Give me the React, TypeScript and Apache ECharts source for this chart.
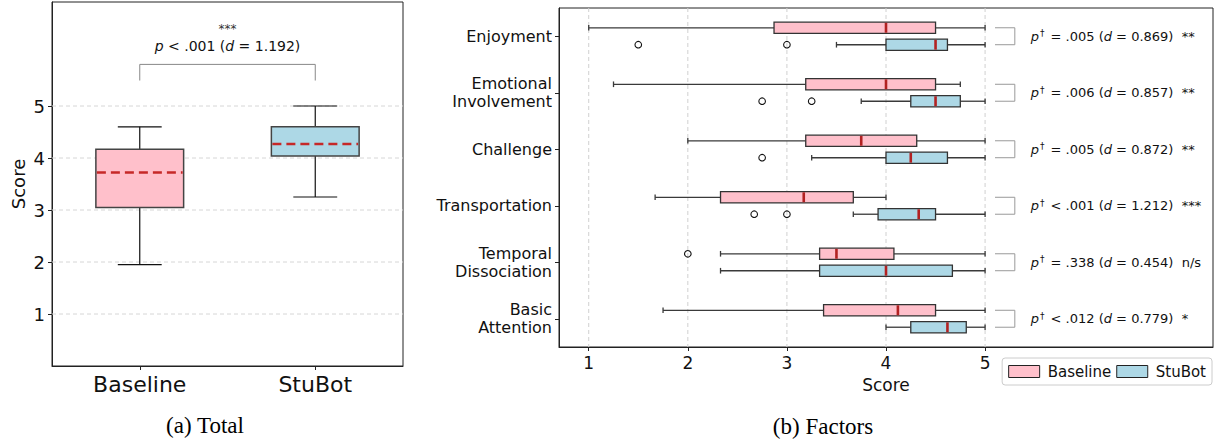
import React, { useEffect, useRef } from 'react';
import * as echarts from 'echarts';

// ---------- Data ----------
const totalGroups = ['Baseline', 'StuBot'];
const totalLow = [1.95, 3.25];
const totalQ1 = [3.05, 4.04];
const totalMedian = [3.72, 4.27];
const totalQ3 = [4.17, 4.6];
const totalHigh = [4.6, 5.0];
const totalSig = '***';
const totalP = '< .001';
const totalD = '1.192';

const factors = [
  'Enjoyment',
  'Emotional\nInvolvement',
  'Challenge',
  'Transportation',
  'Temporal\nDissociation',
  'Basic\nAttention',
];
const baselineLow = [1.0, 1.25, 2.0, 1.67, 2.33, 1.75];
const baselineQ1 = [2.87, 3.19, 3.19, 2.33, 3.33, 3.37];
const baselineMedian = [4.0, 4.0, 3.75, 3.17, 3.5, 4.12];
const baselineQ3 = [4.5, 4.5, 4.31, 3.67, 4.08, 4.5];
const baselineHigh = [5.0, 4.75, 5.0, 4.0, 5.0, 5.0];

const stubotLow = [3.5, 3.75, 3.25, 3.67, 2.33, 4.0];
const stubotQ1 = [4.0, 4.25, 4.0, 3.92, 3.33, 4.25];
const stubotMedian = [4.5, 4.5, 4.25, 4.33, 4.0, 4.62];
const stubotQ3 = [4.62, 4.75, 4.62, 4.5, 4.67, 4.81];
const stubotHigh = [5.0, 5.0, 5.0, 5.0, 5.0, 5.0];

// [factor index, score]
const baselineOutliers = [[4, 2.0]];
const stubotOutliers = [
  [0, 1.5], [0, 3.0],
  [1, 2.75], [1, 3.25],
  [2, 2.75],
  [3, 2.67], [3, 3.0],
];

const pRelations = ['=', '=', '=', '<', '=', '<'];
const pValues = ['.005', '.006', '.005', '.001', '.338', '.012'];
const effectSizes = ['0.869', '0.857', '0.872', '1.212', '0.454', '0.779'];
const sigMarks = ['**', '**', '**', '***', 'n/s', '*'];

const scoreTicks = [1, 2, 3, 4, 5];

// ---------- Styling ----------
const FONT = 'DejaVu Sans';
const PINK = '#FFC0CB';
const BLUE = '#ADD8E6';
const RED = '#B22222';
const AXIS = '#222';

export default function App() {
  const ref = useRef<HTMLDivElement>(null);

  useEffect(() => {
    if (!ref.current) return;
    const chart = echarts.init(ref.current, undefined, { renderer: 'svg' });

    const totalData = totalGroups.map((_, i) => [i, totalLow[i], totalQ1[i], totalMedian[i], totalQ3[i], totalHigh[i]]);
    const baseData = factors.map((_, i) => [i, baselineLow[i], baselineQ1[i], baselineMedian[i], baselineQ3[i], baselineHigh[i]]);
    const stuData = factors.map((_, i) => [i, stubotLow[i], stubotQ1[i], stubotMedian[i], stubotQ3[i], stubotHigh[i]]);

    const totalColors = [PINK, BLUE];

    const renderTotal = (params: any, api: any) => {
      const idx = api.value(0);
      const band = api.size([1, 0])[0];
      const w = band * 0.5;
      const cw = band * 0.25;
      const x = api.coord([idx, 0])[0];
      const yLow = api.coord([idx, api.value(1)])[1];
      const yQ1 = api.coord([idx, api.value(2)])[1];
      const yMed = api.coord([idx, api.value(3)])[1];
      const yQ3 = api.coord([idx, api.value(4)])[1];
      const yHigh = api.coord([idx, api.value(5)])[1];
      const ws = { stroke: '#111', lineWidth: 1.2 };
      return {
        type: 'group',
        children: [
          { type: 'line', shape: { x1: x, y1: yLow, x2: x, y2: yQ1 }, style: ws },
          { type: 'line', shape: { x1: x, y1: yQ3, x2: x, y2: yHigh }, style: ws },
          { type: 'line', shape: { x1: x - cw / 2, y1: yLow, x2: x + cw / 2, y2: yLow }, style: ws },
          { type: 'line', shape: { x1: x - cw / 2, y1: yHigh, x2: x + cw / 2, y2: yHigh }, style: ws },
          {
            type: 'rect',
            shape: { x: x - w / 2, y: yQ3, width: w, height: yQ1 - yQ3 },
            style: { fill: totalColors[idx], stroke: '#444', lineWidth: 1.5 },
          },
          {
            type: 'line',
            shape: { x1: x - w / 2 + 1, y1: yMed, x2: x + w / 2 - 1, y2: yMed },
            style: { stroke: '#C62828', lineWidth: 2.5, lineDash: [9, 5] },
          },
        ],
      };
    };

    const renderTotalAnno = (params: any, api: any) => {
      const a = api.coord([api.value(0), 5.49]);
      const b = api.coord([api.value(1), 5.49]);
      const top = api.coord([0, 5.8])[1];
      const mid = (a[0] + b[0]) / 2;
      return {
        type: 'group',
        children: [
          {
            type: 'polyline',
            shape: { points: [[a[0], a[1]], [a[0], top], [b[0], top], [b[0], b[1]]] },
            style: { stroke: '#888', lineWidth: 1, fill: 'none' },
          },
          {
            type: 'text',
            x: mid,
            y: api.coord([0, 6.15])[1],
            style: {
              text: `{i|p} ${totalP} ({i|d} = ${totalD})`,
              align: 'center',
              verticalAlign: 'middle',
              fontSize: 14,
              fontFamily: FONT,
              fill: '#111',
              rich: { i: { fontStyle: 'italic', fontSize: 14, fontFamily: FONT, fill: '#111' } },
            },
          },
          {
            type: 'text',
            x: mid,
            y: api.coord([0, 6.49])[1],
            style: {
              text: totalSig,
              align: 'center',
              verticalAlign: 'middle',
              fontSize: 12,
              fontFamily: FONT,
              fill: '#333',
            },
          },
        ],
      };
    };

    const makeFactorRender = (offsetFrac: number, fill: string) => (params: any, api: any) => {
      const idx = api.value(0);
      const band = api.size([0, 1])[1];
      const yc = api.coord([1, idx])[1] + offsetFrac * band;
      const h = band * 0.2;
      const xLow = api.coord([api.value(1), idx])[0];
      const xQ1 = api.coord([api.value(2), idx])[0];
      const xMed = api.coord([api.value(3), idx])[0];
      const xQ3 = api.coord([api.value(4), idx])[0];
      const xHigh = api.coord([api.value(5), idx])[0];
      const ws = { stroke: '#3a3a3a', lineWidth: 1.3 };
      return {
        type: 'group',
        children: [
          { type: 'line', shape: { x1: xLow, y1: yc, x2: xQ1, y2: yc }, style: ws },
          { type: 'line', shape: { x1: xQ3, y1: yc, x2: xHigh, y2: yc }, style: ws },
          { type: 'line', shape: { x1: xLow, y1: yc - h / 4, x2: xLow, y2: yc + h / 4 }, style: ws },
          { type: 'line', shape: { x1: xHigh, y1: yc - h / 4, x2: xHigh, y2: yc + h / 4 }, style: ws },
          {
            type: 'rect',
            shape: { x: xQ1, y: yc - h / 2, width: xQ3 - xQ1, height: h },
            style: { fill, stroke: '#333', lineWidth: 1.3 },
          },
          {
            type: 'line',
            shape: { x1: xMed, y1: yc - h / 2 + 0.7, x2: xMed, y2: yc + h / 2 - 0.7 },
            style: { stroke: RED, lineWidth: 2.6 },
          },
        ],
      };
    };

    const makeOutlierRender = (offsetFrac: number) => (params: any, api: any) => {
      const idx = api.value(0);
      const band = api.size([0, 1])[1];
      const p = api.coord([api.value(1), idx]);
      return {
        type: 'circle',
        shape: { cx: p[0], cy: p[1] + offsetFrac * band, r: 3.3 },
        style: { fill: 'none', stroke: '#111', lineWidth: 1.1 },
      };
    };

    const renderFactorAnno = (params: any, api: any) => {
      const idx = api.value(0);
      const i = params.dataIndex;
      const band = api.size([0, 1])[1];
      const yc = api.coord([1, idx])[1];
      const off = band * 0.15;
      const x1 = api.coord([5.1, idx])[0];
      const x2 = api.coord([5.3, idx])[0];
      const xt = api.coord([5.46, idx])[0];
      return {
        type: 'group',
        children: [
          {
            type: 'polyline',
            shape: { points: [[x1, yc - off], [x2, yc - off], [x2, yc + off], [x1, yc + off]] },
            style: { stroke: '#999', lineWidth: 1, fill: 'none' },
          },
          {
            type: 'text',
            x: xt,
            y: yc,
            style: {
              text: `{i|p}{s|†} ${pRelations[i]} ${pValues[i]} ({i|d} = ${effectSizes[i]})  ${sigMarks[i]}`,
              align: 'left',
              verticalAlign: 'middle',
              fontSize: 13,
              fontFamily: FONT,
              fill: '#111',
              rich: {
                i: { fontStyle: 'italic', fontSize: 13, fontFamily: FONT, fill: '#111' },
                s: { fontSize: 9, fontFamily: FONT, fill: '#111', padding: [0, 2, 6, 1] },
              },
            },
          },
        ],
      };
    };

    const renderHGrid = (params: any, api: any) => {
      const cs = params.coordSys;
      const y = api.coord([0, api.value(1)])[1];
      return {
        type: 'line',
        shape: { x1: cs.x, y1: y, x2: cs.x + cs.width, y2: y },
        style: { stroke: '#d6d6d6', lineWidth: 1, lineDash: [4, 3] },
      };
    };
    const renderVGrid = (params: any, api: any) => {
      const cs = params.coordSys;
      const x = api.coord([api.value(0), 0])[0];
      return {
        type: 'line',
        shape: { x1: x, y1: cs.y, x2: x, y2: cs.y + cs.height },
        style: { stroke: '#d0d0d0', lineWidth: 1, lineDash: [4, 3] },
      };
    };

    const option: any = {
      animation: false,
      backgroundColor: '#fff',
      textStyle: { fontFamily: FONT },
      grid: [
        { left: 52, top: 2, width: 351, height: 364, show: true, borderColor: AXIS, borderWidth: 1, backgroundColor: 'transparent' },
        { left: 559, top: 8, width: 654, height: 339, show: true, borderColor: AXIS, borderWidth: 1, backgroundColor: 'transparent' },
      ],
      xAxis: [
        {
          gridIndex: 0,
          type: 'category',
          data: totalGroups,
          boundaryGap: true,
          axisLine: { show: true, lineStyle: { color: AXIS } },
          axisTick: { show: true, alignWithLabel: true, length: 4, lineStyle: { color: AXIS } },
          axisLabel: { fontSize: 22, color: '#111', margin: 7, fontFamily: FONT },
          splitLine: { show: false },
        },
        {
          gridIndex: 1,
          type: 'value',
          min: 0.7,
          max: 7.3,
          axisLine: { show: true, lineStyle: { color: AXIS } },
          axisTick: { show: true, customValues: scoreTicks, length: 4, lineStyle: { color: AXIS } },
          axisLabel: { customValues: scoreTicks, fontSize: 17, color: '#111', margin: 7, fontFamily: FONT },
          splitLine: { show: false },
          name: 'Score',
          nameLocation: 'middle',
          nameGap: 29,
          nameTextStyle: { fontSize: 17, color: '#111', fontFamily: FONT },
        },
      ],
      yAxis: [
        {
          gridIndex: 0,
          type: 'value',
          min: 0,
          max: 7,
          axisLine: { show: true, lineStyle: { color: AXIS } },
          axisTick: { show: true, customValues: scoreTicks, length: 4, lineStyle: { color: AXIS } },
          axisLabel: { customValues: scoreTicks, fontSize: 18, color: '#111', margin: 7, fontFamily: FONT },
          splitLine: { show: false },
          name: 'Score',
          nameLocation: 'middle',
          nameGap: 25,
          nameTextStyle: { fontSize: 18, color: '#111', fontFamily: FONT },
        },
        {
          gridIndex: 1,
          type: 'category',
          data: factors,
          inverse: true,
          boundaryGap: true,
          axisLine: { show: true, lineStyle: { color: AXIS } },
          axisTick: { show: true, alignWithLabel: true, length: 4, lineStyle: { color: AXIS } },
          axisLabel: { fontSize: 16, color: '#111', margin: 7, lineHeight: 18, fontFamily: FONT, align: 'right', padding: [4, 0, 0, 0] },
          splitLine: { show: false },
        },
      ],
      legend: {
        data: [
          { name: 'Baseline', itemStyle: { color: PINK, borderColor: '#222', borderWidth: 1 } },
          { name: 'StuBot', itemStyle: { color: BLUE, borderColor: '#222', borderWidth: 1 } },
        ],
        right: 5,
        top: 358,
        icon: 'rect',
        itemWidth: 31,
        itemHeight: 12,
        itemGap: 5,
        selectedMode: false,
        textStyle: { fontSize: 15, color: '#111', fontFamily: FONT, padding: [0, 0, 0, 3] },
        borderColor: '#ccc',
        borderWidth: 1,
        borderRadius: 3,
        padding: [6, 6, 6, 6],
        backgroundColor: '#fff',
      },
      graphic: [
        { type: 'text', x: 205, y: 425, style: { text: '(a) Total', fontSize: 23, fontFamily: 'Liberation Serif', fill: '#000', align: 'center', verticalAlign: 'middle' } },
        { type: 'text', x: 823, y: 426, style: { text: '(b) Factors', fontSize: 23, fontFamily: 'Liberation Serif', fill: '#000', align: 'center', verticalAlign: 'middle' } },
      ],
      series: [
        {
          type: 'custom', name: 'hgrid', xAxisIndex: 0, yAxisIndex: 0, silent: true, z: 1,
          renderItem: renderHGrid, data: scoreTicks.map((v) => [0, v]), encode: { x: 0, y: 1 },
        },
        {
          type: 'custom', name: 'vgrid', xAxisIndex: 1, yAxisIndex: 1, silent: true, z: 1,
          renderItem: renderVGrid, data: scoreTicks.map((v) => [v, 0]), encode: { x: 0, y: 1 },
        },
        {
          type: 'custom', name: 'total', xAxisIndex: 0, yAxisIndex: 0, z: 3,
          renderItem: renderTotal, data: totalData, encode: { x: 0, y: [1, 2, 3, 4, 5] },
        },
        {
          type: 'custom', name: 'totalAnno', xAxisIndex: 0, yAxisIndex: 0, z: 3, silent: true,
          renderItem: renderTotalAnno, data: [[0, 1]], encode: { x: [0, 1] },
        },
        {
          type: 'custom', name: 'Baseline', xAxisIndex: 1, yAxisIndex: 1, z: 3,
          itemStyle: { color: PINK },
          renderItem: makeFactorRender(-0.15, PINK), data: baseData, encode: { y: 0, x: [1, 2, 3, 4, 5] },
        },
        {
          type: 'custom', name: 'StuBot', xAxisIndex: 1, yAxisIndex: 1, z: 3,
          itemStyle: { color: BLUE },
          renderItem: makeFactorRender(0.15, BLUE), data: stuData, encode: { y: 0, x: [1, 2, 3, 4, 5] },
        },
        {
          type: 'custom', name: 'Baseline outliers', xAxisIndex: 1, yAxisIndex: 1, z: 4,
          renderItem: makeOutlierRender(-0.15), data: baselineOutliers, encode: { y: 0, x: 1 },
        },
        {
          type: 'custom', name: 'StuBot outliers', xAxisIndex: 1, yAxisIndex: 1, z: 4,
          renderItem: makeOutlierRender(0.15), data: stubotOutliers, encode: { y: 0, x: 1 },
        },
        {
          type: 'custom', name: 'factorAnno', xAxisIndex: 1, yAxisIndex: 1, z: 4, silent: true,
          renderItem: renderFactorAnno, data: factors.map((_, i) => [i]), encode: { y: 0 },
        },
      ],
    };

    chart.setOption(option);
    return () => chart.dispose();
  }, []);

  return (
    <div
      ref={ref}
      style={{ position: 'absolute', left: 0, top: 0, width: 1217, height: 443, background: '#fff' }}
    />
  );
}
